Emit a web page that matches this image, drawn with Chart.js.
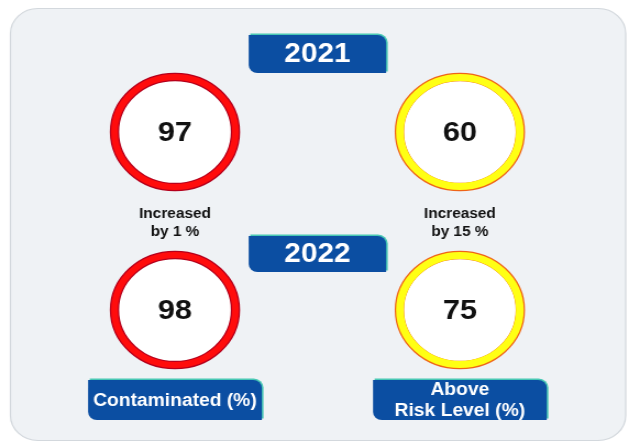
<!DOCTYPE html>
<html>
<head>
<meta charset="utf-8">
<script src="https://cdn.jsdelivr.net/npm/chart.js@4"></script>
<style>
  body { margin: 0; background: #fff; }
  #painel { display: block; }
</style>
</head>
<body>
<!-- o quadro original é esticado na horizontal, por isso o canvas é mais estreito que a janela -->
<canvas id="painel" width="572" height="444" style="width:629px;height:444px"></canvas>
<script>
const anos = ['2021', '2022'];
const indicadores = ['Contaminated (%)', 'Above Risk Level (%)'];
const rotulosIndicadores = [['Contaminated (%)'], ['Above', 'Risk Level (%)']];
const valores2021 = [97, 60];
const valores2022 = [98, 75];
const notasVariacao = [['Increased', 'by 1 %'], ['Increased', 'by 15 %']];

// cores por indicador (vermelho / amarelo)
const corAnel = ['#ff0c0c', '#ffff14'];
const corBorda = ['#b5001c', '#ef6418'];
const fonte = '"Liberation Sans", Arial, sans-serif';

let pontos = [];
[valores2021, valores2022].forEach(function (valores, j) {
  valores.forEach(function (v, i) {
    pontos.push({ x: i, y: j, valor: v });
  });
});

function desenharFaixa(ctx, cx, topo, largura, altura, linhas, tamanho, entrelinha) {
  const x = cx - largura / 2;
  ctx.save();
  ctx.beginPath();
  ctx.roundRect(x + 1.5, topo - 1.5, largura, altura, [0, 9, 0, 9]);
  ctx.fillStyle = '#48c8b4';
  ctx.fill();
  ctx.beginPath();
  ctx.roundRect(x, topo, largura, altura, [0, 8, 0, 8]);
  ctx.fillStyle = '#0b4ea2';
  ctx.fill();
  ctx.fillStyle = '#ffffff';
  ctx.font = 'bold ' + tamanho + 'px ' + fonte;
  ctx.textAlign = 'center';
  ctx.textBaseline = 'middle';
  const cy = topo + altura / 2;
  linhas.forEach(function (l, k) {
    ctx.fillText(l, cx, cy + (k - (linhas.length - 1) / 2) * entrelinha + 1);
  });
  ctx.restore();
}

const painelInfo = {
  id: 'painelInfo',
  beforeDraw(chart) {
    const ctx = chart.ctx;
    ctx.save();
    ctx.fillStyle = '#ffffff';
    ctx.fillRect(0, 0, chart.width, chart.height);
    ctx.beginPath();
    ctx.roundRect(9.5, 8.5, 559.5, 432, 25);
    ctx.fillStyle = '#eff2f5';
    ctx.fill();
    ctx.strokeStyle = '#d3d8dd';
    ctx.lineWidth = 1.2;
    ctx.stroke();
    ctx.restore();
  },
  beforeDatasetsDraw(chart) {
    const ctx = chart.ctx;
    const meio = chart.scales.x.getPixelForValue(0.5);
    const topos = [35, 236];
    const alturas = [38, 36];
    anos.forEach(function (ano, j) {
      desenharFaixa(ctx, meio, topos[j], 125, alturas[j], [ano], 27, 0);
    });
  },
  afterDatasetsDraw(chart) {
    const ctx = chart.ctx;
    const meta = chart.getDatasetMeta(0);
    ctx.save();
    ctx.fillStyle = '#111111';
    ctx.textAlign = 'center';
    ctx.textBaseline = 'middle';
    ctx.font = 'bold 28px ' + fonte;
    meta.data.forEach(function (el, k) {
      ctx.fillText(String(pontos[k].valor), el.x, el.y + 1);
    });

    // notas de variação abaixo dos círculos de 2021
    ctx.font = 'bold 14px ' + fonte;
    const y0 = chart.scales.y.getPixelForValue(0);
    notasVariacao.forEach(function (linhas, i) {
      const cx = chart.scales.x.getPixelForValue(i);
      linhas.forEach(function (l, k) {
        ctx.fillText(l, cx, y0 + 82 + k * 18);
      });
    });
    ctx.restore();

    rotulosIndicadores.forEach(function (linhas, i) {
      const cx = chart.scales.x.getPixelForValue(i);
      desenharFaixa(ctx, cx, 380, 158, 40, linhas, 17.5, 21);
    });
  }
};

const config = {
  type: 'scatter',
  data: {
    datasets: [{
      label: 'anel',
      order: 1,
      data: pontos,
      pointRadius: pontos.map(p => p.x === 0 ? 55 : 54.5),
      pointHoverRadius: pontos.map(p => p.x === 0 ? 55 : 54.5),
      pointBorderWidth: pontos.map(p => p.x === 0 ? 6 : 7),
      pointBorderColor: pontos.map(p => corAnel[p.x]),
      pointBackgroundColor: 'rgba(0,0,0,0)'
    }, {
      label: 'borda',
      order: 2,
      data: pontos,
      pointRadius: 55,
      pointHoverRadius: 55,
      pointBorderWidth: 8.5,
      pointBorderColor: pontos.map(p => corBorda[p.x]),
      pointBackgroundColor: '#ffffff'
    }]
  },
  options: {
    responsive: false,
    devicePixelRatio: 1,
    animation: false,
    events: [],
    layout: {
      autoPadding: false,
      padding: { left: 29.55, right: 24.25, top: 43, bottom: 45 }
    },
    scales: {
      x: { type: 'linear', min: -0.5, max: 1.5, display: false },
      y: { type: 'linear', min: -0.5, max: 1.5, reverse: true, display: false }
    },
    plugins: {
      legend: { display: false },
      tooltip: { enabled: false }
    }
  },
  plugins: [painelInfo]
};

window.myChart = new Chart(document.getElementById('painel'), config);
</script>
</body>
</html>
